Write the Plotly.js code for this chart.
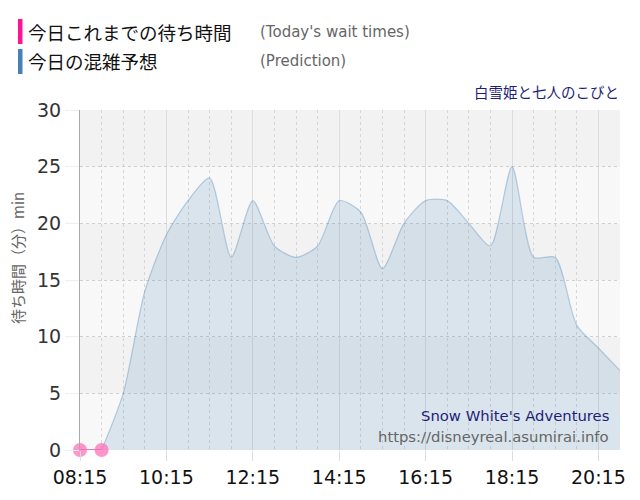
<!DOCTYPE html>
<html>
<head>
<meta charset="utf-8">
<script src="https://cdn.plot.ly/plotly-3.0.1.min.js"></script>
<style>html,body{margin:0;padding:0;background:#fff;}#chart{width:640px;height:500px;}</style>
</head>
<body>
<div id="chart"></div>
<script>
// Today's actual wait times
const actualTimes = ['08:15', '08:45'];
const actualValues = [0, 0];

// Prediction
const predTimes = ['08:45','09:15','09:45','10:15','10:45','11:15','11:45','12:15','12:45','13:15','13:45','14:15','14:45',
  '15:15','15:45','16:15','16:45','17:15','17:45','18:15','18:45','19:15','19:45','20:15','20:45'];
const predValues = [0, 5, 14, 19, 22, 24, 17, 22, 18, 17, 18, 22, 21, 16, 20, 22, 22, 20, 18, 25, 17, 17, 11, 9, 7];

const tickLabels = ['08:15','10:15','12:15','14:15','16:15','18:15','20:15'];
const yTicks = [0, 5, 10, 15, 20, 25, 30];

const day = '2024-01-01 ';
const toDate = t => day + t;

// plot area in pixels
const L = 80, T = 110, W = 540, H = 340;
const px = X => (X - L) / W;
const py = Y => (T + H - Y) / H;

const traces = [
  {
    x: predTimes.map(toDate), y: predValues, type: 'scatter', mode: 'lines',
    line: {color: 'rgba(70,130,180,0.35)', width: 1.2, shape: 'spline', smoothing: 0.7},
    fill: 'tozeroy', fillcolor: 'rgba(70,130,180,0.17)', hoverinfo: 'skip'
  },
  {
    x: actualTimes.map(toDate), y: actualValues, type: 'scatter', mode: 'lines+markers',
    line: {color: '#d9569c', width: 1.5},
    marker: {color: 'rgba(255,105,180,0.7)', size: 14}, cliponaxis: false, hoverinfo: 'skip'
  }
];

const shapes = [];
// alternating bands
for (let i = 0; i < 6; i++) {
  shapes.push({type: 'rect', xref: 'paper', yref: 'y', x0: 0, x1: 1, y0: i * 5, y1: i * 5 + 5,
    fillcolor: (i % 2 === 0) ? '#f8f8f8' : '#f2f2f2', line: {width: 0}, layer: 'below'});
}
// legend colour bars
shapes.push({type: 'rect', xref: 'paper', yref: 'paper', x0: px(18), x1: px(22.5), y0: py(44), y1: py(19),
  fillcolor: '#ff1493', line: {width: 0}});
shapes.push({type: 'rect', xref: 'paper', yref: 'paper', x0: px(18), x1: px(22.5), y0: py(74), y1: py(49),
  fillcolor: '#4682b4', line: {width: 0}});

const annotations = [
  {text: '今日これまでの待ち時間', x: px(26), y: py(32), xref: 'paper', yref: 'paper', xanchor: 'left', yanchor: 'middle',
    showarrow: false, font: {family: 'Noto Sans CJK JP', size: 18.5, color: '#111'}},
  {text: '今日の混雑予想', x: px(26), y: py(61), xref: 'paper', yref: 'paper', xanchor: 'left', yanchor: 'middle',
    showarrow: false, font: {family: 'Noto Sans CJK JP', size: 18.5, color: '#111'}},
  {text: "(Today's wait times)", x: px(258), y: py(32), xref: 'paper', yref: 'paper', xanchor: 'left', yanchor: 'middle',
    showarrow: false, font: {family: 'DejaVu Sans', size: 15, color: '#666'}},
  {text: '(Prediction)', x: px(258), y: py(61), xref: 'paper', yref: 'paper', xanchor: 'left', yanchor: 'middle',
    showarrow: false, font: {family: 'DejaVu Sans', size: 15, color: '#666'}},
  {text: '白雪姫と七人のこびと', x: px(621), y: py(92), xref: 'paper', yref: 'paper', xanchor: 'right', yanchor: 'middle',
    showarrow: false, font: {family: 'Noto Sans CJK JP', size: 14.5, color: '#1e1e78'}},
  {text: "Snow White's Adventures", x: px(611), y: py(415), xref: 'paper', yref: 'paper', xanchor: 'right', yanchor: 'middle',
    showarrow: false, font: {family: 'DejaVu Sans', size: 14.8, color: '#1e1e78'}},
  {text: 'https://disneyreal.asumirai.info', x: px(611), y: py(436), xref: 'paper', yref: 'paper', xanchor: 'right', yanchor: 'middle',
    showarrow: false, font: {family: 'DejaVu Sans', size: 14.8, color: '#666'}},
  {text: '待ち時間（分）min', x: px(17), y: py(258), xref: 'paper', yref: 'paper', xanchor: 'center', yanchor: 'middle',
    textangle: -90, showarrow: false, font: {family: 'Noto Sans CJK JP', size: 15, color: '#666'}}
];

const layout = {
  width: 640, height: 500,
  margin: {l: L, r: 640 - L - W, t: T, b: 500 - T - H, pad: 0},
  paper_bgcolor: '#fff', plot_bgcolor: '#fff',
  showlegend: false,
  xaxis: {
    type: 'date',
    range: [toDate('08:15'), toDate('20:45')],
    tickmode: 'array',
    tickvals: tickLabels.map(toDate),
    ticktext: tickLabels,
    ticks: 'outside', ticklen: 10, tickcolor: '#ddd', tickwidth: 1,
    showgrid: true, gridcolor: '#dcdcdc', gridwidth: 1,
    minor: {dtick: 30 * 60 * 1000, tick0: toDate('08:15'), showgrid: true, gridcolor: '#d6d6d6', griddash: '3px,3px', gridwidth: 1, ticks: ''},
    zeroline: false, showline: false,
    tickfont: {family: 'DejaVu Sans', size: 19, color: '#111'},
    fixedrange: true
  },
  yaxis: {
    range: [0, 30],
    tickmode: 'array', tickvals: yTicks, ticktext: yTicks.map(String),
    ticks: 'outside', ticklen: 14, tickcolor: '#eeeeee', tickwidth: 1,
    showgrid: true, gridcolor: '#cfcfcf', griddash: 'dot', gridwidth: 1,
    showline: true, linecolor: '#aaaaaa', linewidth: 1,
    zeroline: false,
    tickfont: {family: 'DejaVu Sans', size: 19, color: '#333'},
    fixedrange: true
  },
  shapes: shapes,
  annotations: annotations
};

Plotly.newPlot('chart', traces, layout, {displayModeBar: false, staticPlot: true});
</script>
</body>
</html>
